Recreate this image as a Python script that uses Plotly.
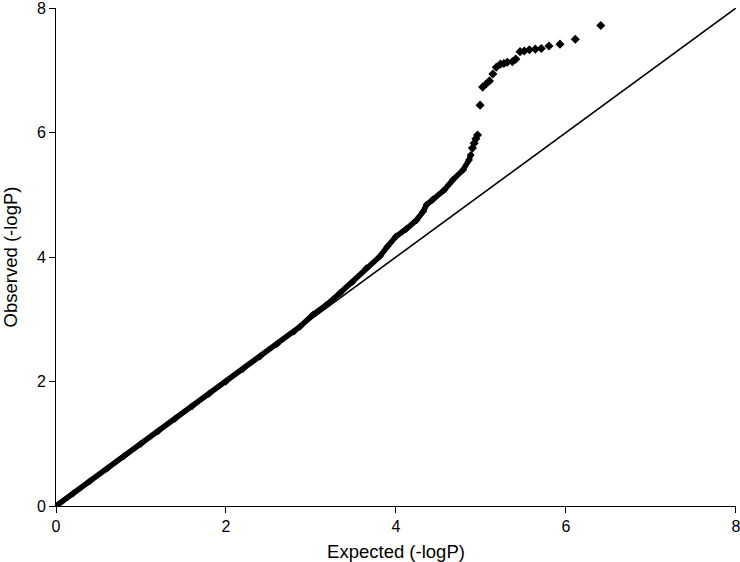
import plotly.graph_objects as go

# Dense part of the QQ curve (expected, observed)
dense_expected = [0.00, 0.20, 0.40, 0.60, 0.80, 1.00, 1.20, 1.40, 1.60, 1.80,
                  2.00, 2.20, 2.40, 2.60, 2.80, 2.87, 3.02, 3.18, 3.34, 3.49,
                  3.65, 3.81, 3.90, 4.00, 4.12, 4.24, 4.32, 4.36, 4.43, 4.57,
                  4.67, 4.79, 4.86, 4.88]
dense_observed = [0.00, 0.20, 0.40, 0.60, 0.80, 1.00, 1.20, 1.40, 1.60, 1.80,
                  2.00, 2.20, 2.40, 2.60, 2.80, 2.88, 3.07, 3.23, 3.42, 3.60,
                  3.82, 4.01, 4.17, 4.33, 4.45, 4.59, 4.73, 4.84, 4.92, 5.08,
                  5.24, 5.40, 5.56, 5.64]

# Sparse upper tail points
tail_expected = [4.90, 4.92, 4.94, 4.96, 4.99, 5.02, 5.06, 5.10, 5.14, 5.18,
                 5.23, 5.27, 5.31, 5.37, 5.41, 5.46, 5.51, 5.57, 5.64, 5.71,
                 5.80, 5.93, 6.11, 6.41]
tail_observed = [5.75, 5.83, 5.90, 5.96, 6.44, 6.73, 6.78, 6.83, 6.94, 7.05,
                 7.10, 7.11, 7.13, 7.14, 7.18, 7.30, 7.31, 7.33, 7.34, 7.35,
                 7.39, 7.42, 7.50, 7.72]

# Reference line y = x
ref_line = [0, 8]
tick_values = [0, 2, 4, 6, 8]
tick_labels = ["0", "2", "4", "6", "8"]

FONT = "Liberation Sans, Arial, Helvetica, sans-serif"

fig = go.Figure()
fig.add_trace(go.Scatter(x=ref_line, y=ref_line, mode="lines",
                         line=dict(color="black", width=1.6),
                         showlegend=False, hoverinfo="skip"))
fig.add_trace(go.Scatter(x=dense_expected, y=dense_observed, mode="lines+markers",
                         line=dict(color="black", width=5.5),
                         marker=dict(symbol="diamond", size=6, color="black"),
                         showlegend=False))
fig.add_trace(go.Scatter(x=tail_expected, y=tail_observed, mode="markers",
                         marker=dict(symbol="diamond", size=7, color="black"),
                         showlegend=False))

axis_common = dict(
    range=[0, 8.001], tickmode="array", tickvals=tick_values, ticktext=tick_labels,
    showgrid=False, zeroline=False, automargin=False,
    showline=True, linecolor="black", linewidth=1,
    ticks="outside", ticklen=6, tickcolor="black", tickwidth=1,
    tickfont=dict(family=FONT, size=16, color="black"),
    ticklabeloverflow="allow",
)

fig.update_layout(
    width=740, height=562,
    margin=dict(l=56, r=4, t=8, b=56),
    paper_bgcolor="white", plot_bgcolor="white",
    font=dict(family=FONT, size=16, color="black"),
    xaxis=dict(**axis_common,
               title=dict(text="Expected (-logP)", standoff=11,
                          font=dict(family=FONT, size=18.5))),
    yaxis=dict(**axis_common,
               title=dict(text="Observed (-logP)", standoff=16,
                          font=dict(family=FONT, size=18.5))),
)

fig.write_html("out.html",
               config={"displayModeBar": False},
               post_script="document.body.style.margin='0';document.body.style.overflow='hidden';")
